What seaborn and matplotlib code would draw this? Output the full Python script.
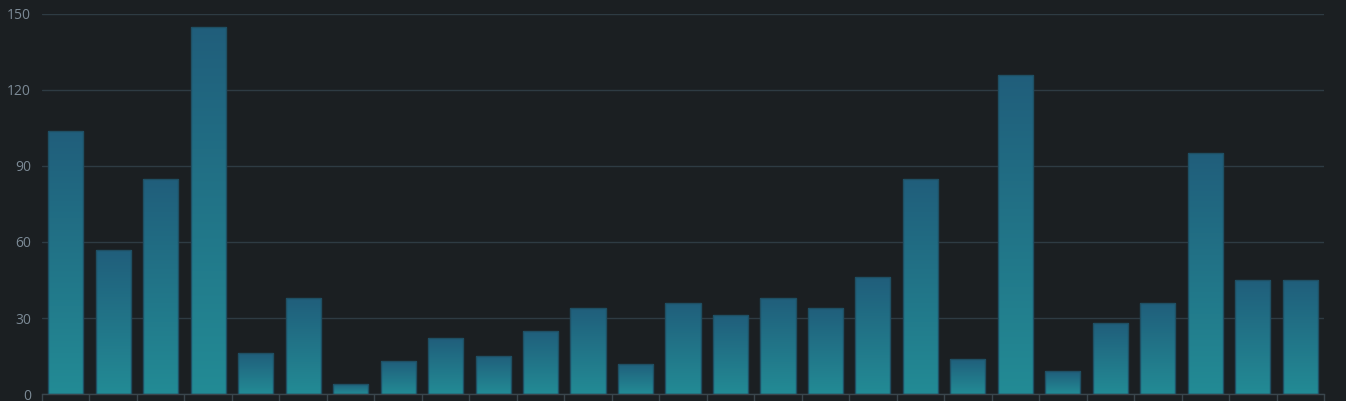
import numpy as np
import pandas as pd
import seaborn as sns
import matplotlib.pyplot as plt
from matplotlib.colors import LinearSegmentedColormap

# bar values (27 categories)
categories = [f"c{i + 1}" for i in range(27)]
values = [104, 57, 85, 145, 16, 38, 4, 13, 22, 15, 25, 34, 12, 36, 31,
          38, 34, 46, 85, 14, 126, 9, 28, 36, 95, 45, 45]
y_ticks = [0, 30, 60, 90, 120, 150]

bg = "#1b1f22"
grid_c = "#2e3b43"
text_c = "#7c8a96"

sns.set_theme(style="dark")
plt.rcParams["font.family"] = ["Open Sans", "DejaVu Sans"]

df = pd.DataFrame({"cat": categories, "val": values})

fig = plt.figure(figsize=(13.46, 4.01), dpi=100, facecolor=bg)
ax = fig.add_axes([42 / 1346, 7 / 401, (1324 - 42) / 1346, (394 - 14) / 401])
ax.set_facecolor(bg)

sns.barplot(data=df, x="cat", y="val", ax=ax, width=0.74, color="#22708a",
            edgecolor="#1f4f63", linewidth=1.0, zorder=3)

# vertical gradient inside each bar
cmap = LinearSegmentedColormap.from_list("g", ["#238b95", "#205e7b"])
grad = np.linspace(0, 1, 256).reshape(-1, 1)
for p in ax.patches:
    x0, y0 = p.get_x(), p.get_y()
    w, h = p.get_width(), p.get_height()
    im = ax.imshow(grad, cmap=cmap, origin="lower", aspect="auto",
                   extent=[x0, x0 + w, y0, y0 + h], zorder=2)
    im.set_clip_path(p)
    p.set_facecolor("none")

ax.set_xlim(-0.5, len(categories) - 0.5)
ax.set_ylim(0, 150)
ax.set_yticks(y_ticks)
ax.set_yticklabels([str(t) for t in y_ticks])
ax.yaxis.grid(True, color=grid_c, linewidth=1.0, zorder=0)
ax.xaxis.grid(False)

# category boundary ticks, labels fall outside the figure
ax.set_xticks(np.arange(-0.5, len(categories), 1.0))
ax.set_xticklabels([])
ax.tick_params(axis="x", length=5, color="#3a464d", width=1, bottom=True)
ax.tick_params(axis="y", length=0, labelcolor=text_c, labelsize=10, pad=8)

for s in ["top", "right", "left"]:
    ax.spines[s].set_visible(False)
ax.spines["bottom"].set_color("#3a464d")
ax.spines["bottom"].set_linewidth(1)
ax.set_xlabel("")
ax.set_ylabel("")

fig.savefig("out.png", dpi=100, facecolor=bg)
